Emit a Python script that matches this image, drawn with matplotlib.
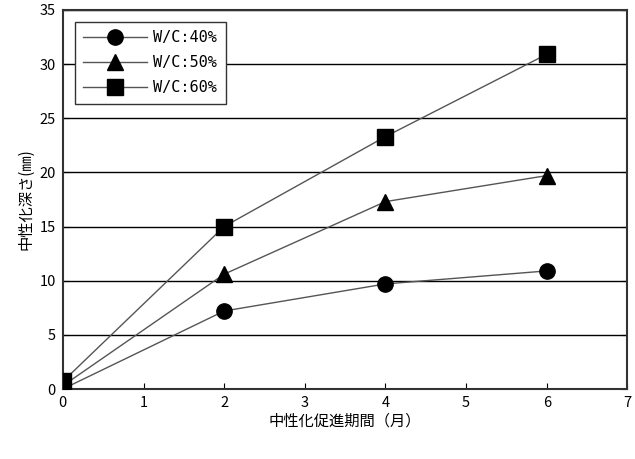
import matplotlib
matplotlib.use('Agg')
import matplotlib.pyplot as plt

plt.rcParams['font.family'] = ['Noto Sans CJK JP', 'DejaVu Sans']

# data
months = [0, 2, 4, 6]
wc40 = [0.0, 7.2, 9.7, 10.9]
wc50 = [0.3, 10.6, 17.3, 19.7]
wc60 = [0.7, 15.0, 23.3, 30.9]
labels = ['W/C:40%', 'W/C:50%', 'W/C:60%']

fig = plt.figure(figsize=(6.35, 4.59), dpi=100)
ax = fig.add_axes([0.099, 0.1525, 0.889, 0.826])

for y, m, lab in zip([wc40, wc50, wc60], ['o', '^', 's'], labels):
    ax.plot(months, y, color='#555555', linewidth=1, marker=m, markersize=11,
            markerfacecolor='black', markeredgecolor='black', label=lab, zorder=3)

ax.set_xlim(0, 7)
ax.set_ylim(0, 35)
ax.set_xticks(range(0, 8))
ax.set_yticks(range(0, 36, 5))
ax.yaxis.grid(True, color='black', linewidth=1)
ax.set_axisbelow(True)
ax.tick_params(direction='in', labelsize=10.5, length=4, right=True, top=False, pad=5)
for s in ax.spines.values():
    s.set_linewidth(1.5)
    s.set_color('#333333')

ax.set_xlabel('中性化促進期間（月）', fontsize=11, labelpad=2)
ax.set_ylabel('中性化深さ(㎜)', fontsize=11, labelpad=4)

# legend box
leg = ax.legend(loc='upper left', bbox_to_anchor=(0.021, 0.968), borderaxespad=0,
                fancybox=False, edgecolor='#333333', framealpha=1, handlelength=4.2,
                labelspacing=0.65, borderpad=0.55, handletextpad=0.4,
                prop={'family': 'DejaVu Sans Mono', 'size': 11})
leg.get_frame().set_linewidth(1)

fig.savefig('out.png', dpi=100)
